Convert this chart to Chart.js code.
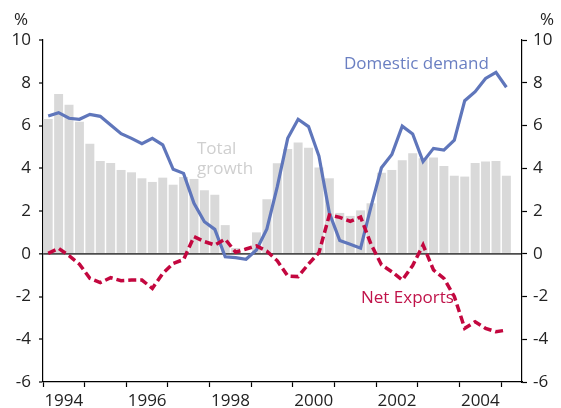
<!DOCTYPE html>
<html>
<head>
<meta charset="utf-8">
<script src="https://cdn.jsdelivr.net/npm/chart.js@4.4.1/dist/chart.umd.min.js"></script>
<style>
  html, body { margin: 0; padding: 0; background: #fff; }
  #wrap { width: 561px; height: 408px; position: relative; }
</style>
</head>
<body>
<div id="wrap"><canvas id="c"></canvas></div>
<script>
// Quarterly categories 1994Q1 .. 2005Q2 (last slot empty)
const years = [1994,1995,1996,1997,1998,1999,2000,2001,2002,2003,2004,2005];
const quarters = [];
years.forEach(y => { for (let q = 1; q <= 4; q++) quarters.push(y + 'Q' + q); });
quarters.length = 46;

const yearTickLabels = ['1994','1996','1998','2000','2002','2004'];
const yTicks = [-6,-4,-2,0,2,4,6,8,10];

const totalGrowth = [6.30,7.47,6.97,6.18,5.15,4.34,4.25,3.92,3.81,3.53,3.36,3.56,3.23,3.59,3.50,2.97,
  2.76,1.34,0.27,0.05,1.00,2.55,4.23,4.90,5.20,4.96,4.03,3.53,1.91,1.77,2.03,2.36,
  3.79,3.92,4.37,4.70,4.47,4.50,4.10,3.65,3.61,4.25,4.31,4.34,3.65];

const domesticDemand = [6.44,6.60,6.34,6.29,6.52,6.43,6.02,5.62,5.40,5.15,5.40,5.09,3.95,3.76,2.36,1.50,
  1.14,-0.14,-0.18,-0.26,0.18,1.16,3.14,5.40,6.29,5.95,4.57,1.90,0.62,0.44,0.26,2.20,
  4.02,4.64,5.97,5.60,4.31,4.93,4.85,5.32,7.16,7.58,8.20,8.49,7.79];

const netExports = [0.02,0.25,-0.09,-0.49,-1.15,-1.35,-1.12,-1.26,-1.23,-1.23,-1.62,-0.92,-0.45,-0.27,0.80,0.57,
  0.41,0.68,0.07,0.22,0.37,0.12,-0.33,-1.04,-1.07,-0.48,0.05,1.81,1.70,1.52,1.72,0.45,
  -0.52,-0.84,-1.23,-0.55,0.41,-0.76,-1.15,-2.00,-3.49,-3.18,-3.49,-3.65,-3.57];

const FONT = '"Open Sans", "Noto Sans", sans-serif';

const annotations = {
  id: 'annotations',
  afterDatasetsDraw(chart) {
    const ctx = chart.ctx;
    ctx.save();
    ctx.font = '17px ' + FONT;
    ctx.textBaseline = 'alphabetic';
    ctx.textAlign = 'left';
    ctx.fillStyle = '#6a7fc2';
    ctx.fillText('Domestic demand', 344, 69);
    ctx.fillStyle = '#cfcfcf';
    ctx.fillText('Total', 197, 154);
    ctx.fillText('growth', 197, 174);
    ctx.fillStyle = '#c0134a';
    ctx.fillText('Net Exports', 361, 303);
    ctx.fillStyle = '#222';
    ctx.textAlign = 'center';
    ctx.fillText('%', 21, 25);
    ctx.fillText('%', 547, 25);
    ctx.restore();
  }
};

const tickFont = { family: FONT, size: 17 };

new Chart(document.getElementById('c'), {
  type: 'bar',
  data: {
    labels: quarters,
    datasets: [
      {
        type: 'line', label: 'Net Exports', data: netExports,
        borderColor: '#c3073f', borderWidth: 3.5, borderDash: [8, 4],
        borderCapStyle: 'butt', borderJoinStyle: 'miter',
        pointRadius: 0, tension: 0, fill: false, order: 0, yAxisID: 'y'
      },
      {
        type: 'line', label: 'Domestic demand', data: domesticDemand,
        borderColor: '#5f76bb', borderWidth: 3.2,
        borderJoinStyle: 'miter',
        pointRadius: 0, tension: 0, fill: false, order: 1, yAxisID: 'y'
      },
      {
        type: 'bar', label: 'Total growth', data: totalGrowth,
        backgroundColor: '#d9d9d9', borderWidth: 0,
        categoryPercentage: 1.0, barPercentage: 0.86, order: 2, yAxisID: 'y'
      }
    ]
  },
  options: {
    responsive: true,
    maintainAspectRatio: false,
    animation: false,
    layout: { padding: { top: 40, left: 0, right: 0, bottom: 0 } },
    plugins: { legend: { display: false }, tooltip: { enabled: false } },
    scales: {
      x: {
        type: 'category',
        offset: true,
        afterFit(s) { s.height = 26; },
        border: { display: true, color: '#000', width: 1.3 },
        grid: {
          offset: true,
          drawOnChartArea: false,
          drawTicks: true,
          tickLength: 5,
          tickWidth: 1.2,
          tickColor: (c) => (c.index % 4 === 0 ? '#000' : 'rgba(0,0,0,0)')
        },
        ticks: {
          autoSkip: false, maxRotation: 0, minRotation: 0,
          padding: 4,
          labelOffset: -5.2,
          color: '#222', font: tickFont,
          callback: (v, i) => (i % 8 === 2 ? yearTickLabels[(i - 2) / 8] : '')
        }
      },
      y: {
        position: 'left',
        min: -6, max: 10,
        afterFit(s) { s.width = 43; },
        afterBuildTicks(s) { s.ticks = yTicks.map(v => ({ value: v })); },
        border: { display: true, color: '#000', width: 1.2 },
        grid: {
          drawOnChartArea: true,
          drawTicks: true,
          tickLength: 4,
          tickWidth: 1.2,
          tickColor: '#000',
          color: (c) => (c.tick && c.tick.value === 0 ? '#4d4d4d' : 'rgba(0,0,0,0)'),
          lineWidth: (c) => (c.tick && c.tick.value === 0 ? 1.7 : 0)
        },
        ticks: { padding: 8, color: '#222', font: tickFont }
      },
      y2: {
        position: 'right',
        min: -6, max: 10,
        afterFit(s) { s.width = 39; },
        afterBuildTicks(s) { s.ticks = yTicks.map(v => ({ value: v })); },
        border: { display: true, color: '#000', width: 1.2 },
        grid: {
          drawOnChartArea: false,
          drawTicks: true,
          tickLength: 5,
          tickWidth: 1.2,
          tickColor: '#000'
        },
        ticks: { padding: 6, color: '#222', font: tickFont }
      }
    }
  },
  plugins: [annotations]
});
</script>
</body>
</html>
